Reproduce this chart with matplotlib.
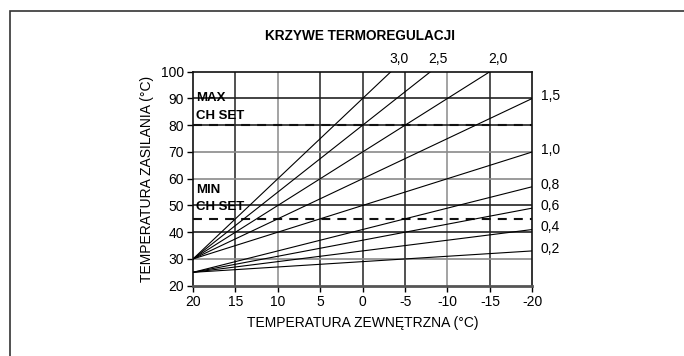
import matplotlib
matplotlib.use("Agg")
import matplotlib.pyplot as plt
from matplotlib.patches import Rectangle

plt.rcParams['font.family'] = ['Liberation Sans', 'DejaVu Sans']

# heating curves: slope value, flow temperature at +20 °C outside
curve_labels = ["3,0", "2,5", "2,0", "1,5", "1,0", "0,8", "0,6", "0,4", "0,2"]
curve_slopes = [3.0, 2.5, 2.0, 1.5, 1.0, 0.8, 0.6, 0.4, 0.2]
curve_start = [30, 30, 30, 30, 30, 25, 25, 25, 25]
x_start, x_end = 20, -20
y_min, y_max = 20, 100

max_ch_set = 80
min_ch_set = 45

x_ticks = [20, 15, 10, 5, 0, -5, -10, -15, -20]
y_ticks = [20, 30, 40, 50, 60, 70, 80, 90, 100]

fig = plt.figure(figsize=(6.84, 3.56), dpi=100)
ax = fig.add_axes([0.2822, 0.1975, 0.4960, 0.6011])
ax.set_xlim(x_start, x_end)
ax.set_ylim(y_min, y_max)

# grid, scanned look: some lines darker than others
for x in x_ticks[1:-1]:
    c = '#8a8a8a' if x in (10, -10) else '#222222'
    ax.axvline(x, color=c, lw=1.1, zorder=1)
for y in y_ticks[1:-1]:
    c = '#8a8a8a' if y in (30, 60, 70) else '#222222'
    ax.axhline(y, color=c, lw=1.2, zorder=1)

# set-point limits
for y in (max_ch_set, min_ch_set):
    ax.axhline(y, color='#111111', lw=1.5, dashes=(4.3, 3.4), zorder=2)

# curves, clipped at 100 °C
for lab, k, t0 in zip(curve_labels, curve_slopes, curve_start):
    y_end = t0 + k * (x_start - x_end)
    if y_end > y_max:
        x_hit = x_start - (y_max - t0) / k
        ax.plot([x_start, x_hit], [t0, y_max], color='black', lw=0.8, zorder=3)
        ax.text(x_hit - 0.9, y_max + 2.3, lab, ha='center', va='bottom', fontsize=10)
    else:
        ax.plot([x_start, x_end], [t0, y_end], color='black', lw=0.8, zorder=3)
        ax.text(x_end - 1.0, y_end + 0.8, lab, ha='left', va='center', fontsize=10)

ax.text(19.6, 90, "MAX", fontsize=9.5, fontweight='bold', va='center', ha='left', zorder=4)
ax.text(19.6, 83.6, "CH SET", fontsize=9.5, fontweight='bold', va='center', ha='left', zorder=4)
ax.text(19.6, 55.8, "MIN", fontsize=9.5, fontweight='bold', va='center', ha='left', zorder=4)
ax.text(19.6, 49.4, "CH SET", fontsize=9.5, fontweight='bold', va='center', ha='left', zorder=4)

ax.set_xticks(x_ticks)
ax.set_xticklabels([str(v) for v in x_ticks])
ax.set_yticks(y_ticks)
ax.tick_params(direction='out', length=4, width=1, labelsize=10, pad=2.5, colors='black')

for side in ('left', 'right', 'top'):
    ax.spines[side].set_color('#111111')
    ax.spines[side].set_linewidth(1.2)
ax.spines['bottom'].set_color('#555555')
ax.spines['bottom'].set_linewidth(2)

ax.set_xlabel("TEMPERATURA ZEWNĘTRZNA (°C)", fontsize=10, labelpad=5)
ax.set_ylabel("TEMPERATURA ZASILANIA (°C)", fontsize=10, labelpad=5)
fig.text(0.527, 0.9, "KRZYWE TERMOREGULACJI", ha='center', va='center',
         fontsize=9.8, fontweight='bold')

# page frame
fig.patches.append(Rectangle((9.5 / 684, -0.2), 1.2, 1.2 - 11 / 356,
                             transform=fig.transFigure, fill=False,
                             edgecolor='#333333', lw=1.2))

fig.savefig("out.png", dpi=100, facecolor='white')
